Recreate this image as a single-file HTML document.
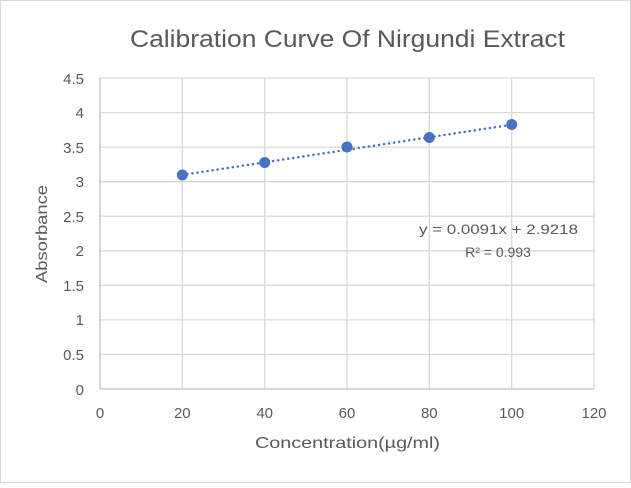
<!DOCTYPE html>
<html><head><style>body{margin:0;background:#fff}</style></head><body>
<svg width="631" height="483" xmlns="http://www.w3.org/2000/svg" font-family="Liberation Sans, sans-serif">
<rect x="0.5" y="0.5" width="630" height="482" fill="#fff" stroke="#d9d9d9"/>
<text x="130" y="47" font-size="24" fill="#595959" textLength="435" lengthAdjust="spacingAndGlyphs">Calibration Curve Of Nirgundi Extract</text>
<g stroke="#d9d9d9" stroke-width="1.3">
<line x1="100" y1="78" x2="594" y2="78"/><line x1="100" y1="112.6" x2="594" y2="112.6"/>
<line x1="100" y1="147.1" x2="594" y2="147.1"/><line x1="100" y1="181.7" x2="594" y2="181.7"/>
<line x1="100" y1="216.2" x2="594" y2="216.2"/><line x1="100" y1="250.8" x2="594" y2="250.8"/>
<line x1="100" y1="285.3" x2="594" y2="285.3"/><line x1="100" y1="319.9" x2="594" y2="319.9"/>
<line x1="100" y1="354.4" x2="594" y2="354.4"/>
<line x1="182.3" y1="78" x2="182.3" y2="389"/><line x1="264.7" y1="78" x2="264.7" y2="389"/>
<line x1="347" y1="78" x2="347" y2="389"/><line x1="429.3" y1="78" x2="429.3" y2="389"/>
<line x1="511.7" y1="78" x2="511.7" y2="389"/><line x1="594" y1="78" x2="594" y2="389"/>
</g>
<g stroke="#bfbfbf" stroke-width="1.3"><line x1="100" y1="78" x2="100" y2="389"/><line x1="100" y1="389" x2="594" y2="389"/></g>
<g font-size="15" fill="#595959" text-anchor="end">
<text x="84" y="84">4.5</text><text x="84" y="118">4</text><text x="84" y="153">3.5</text><text x="84" y="187">3</text>
<text x="84" y="222">2.5</text><text x="84" y="256">2</text><text x="84" y="291">1.5</text><text x="84" y="325">1</text>
<text x="84" y="360">0.5</text><text x="84" y="395">0</text>
</g>
<g font-size="15" fill="#595959" text-anchor="middle">
<text x="100" y="418">0</text><text x="182.3" y="418">20</text><text x="264.7" y="418">40</text><text x="347" y="418">60</text>
<text x="429.3" y="418">80</text><text x="511.7" y="418">100</text><text x="594" y="418">120</text>
</g>
<text x="255" y="448" font-size="16" fill="#595959" textLength="185" lengthAdjust="spacingAndGlyphs">Concentration(µg/ml)</text>
<text transform="translate(47,283) rotate(-90)" font-size="16" fill="#595959" textLength="98" lengthAdjust="spacingAndGlyphs">Absorbance</text>
<line x1="182.3" y1="174.9" x2="511.7" y2="124.7" stroke="#4472c4" stroke-width="2.5" stroke-dasharray="0.1 5" stroke-linecap="round"/>
<g fill="#4472c4">
<circle cx="182.3" cy="175" r="5.5"/><circle cx="264.7" cy="162.5" r="5.5"/><circle cx="347" cy="147" r="5.5"/>
<circle cx="429.3" cy="137.5" r="5.5"/><circle cx="511.7" cy="124.5" r="5.5"/>
</g>
<text x="419" y="234" font-size="14" fill="#595959" textLength="159" lengthAdjust="spacingAndGlyphs">y = 0.0091x + 2.9218</text>
<text x="498" y="257" font-size="14" fill="#595959" text-anchor="middle">R² = 0.993</text>
</svg>
</body></html>
